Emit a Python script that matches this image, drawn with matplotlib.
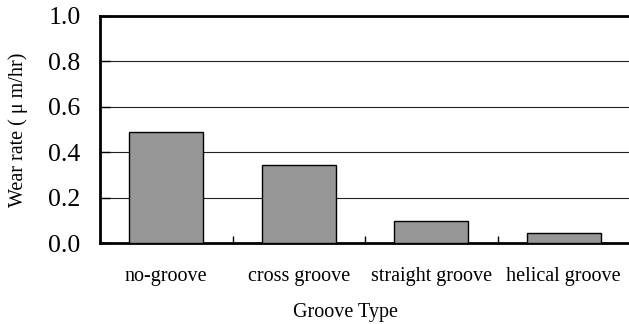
import matplotlib
matplotlib.use("Agg")
import matplotlib.pyplot as plt
import numpy as np

categories = ["no-groove", "cross groove", "straight groove", "helical groove"]
wear_rate = [0.49, 0.345, 0.095, 0.042]
yticks = [0.0, 0.2, 0.4, 0.6, 0.8, 1.0]

plt.rcParams['font.family'] = ['Liberation Serif', 'DejaVu Serif']

fig = plt.figure(figsize=(6.29, 3.24), dpi=100)
ax = fig.add_axes([100/629, 1-243/324, 530/629, 227/324])

x = np.arange(len(categories))
ax.bar(x, wear_rate, width=0.56, color='#969696', edgecolor='black', linewidth=1.0, zorder=3)

ax.set_xlim(-0.5, len(categories) - 0.5)
ax.set_ylim(0, 1.0)
ax.set_yticks(yticks)
ax.set_yticklabels([f"{v:.1f}" for v in yticks], fontsize=18.5)
ax.yaxis.grid(True, color='#222222', linewidth=0.8, zorder=0)
ax.tick_params(axis='y', direction='in', length=7, width=1, pad=14)

ax.set_xticks(x)
ax.set_xticklabels(categories, fontsize=14.5)
ax.tick_params(axis='x', which='major', length=0, pad=17)
ax.set_xticks(x[:-1] + 0.5, minor=True)
ax.tick_params(axis='x', which='minor', direction='in', length=5, width=1)

for s in ['left', 'top', 'bottom']:
    ax.spines[s].set_linewidth(2)
ax.spines['right'].set_visible(False)

fig.text(18/629, 1-129.5/324, "Wear rate ( \u03bc m/hr)", fontsize=14.5,
         rotation=90, ha='center', va='center')
fig.text(345/629, 1-313/324, "Groove Type", fontsize=14.5, ha='center', va='center')

fig.savefig("out.png", dpi=100)
